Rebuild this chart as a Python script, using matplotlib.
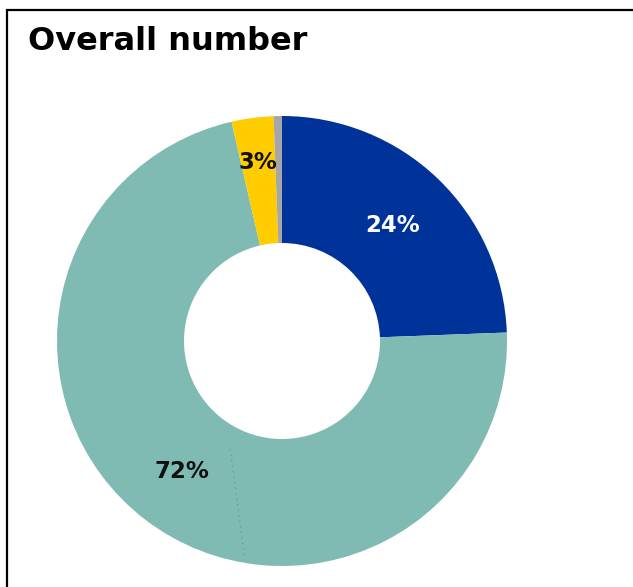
import matplotlib
matplotlib.use("Agg")
import matplotlib.pyplot as plt
from matplotlib.patches import Rectangle
from matplotlib.lines import Line2D
import numpy as np

title = "Overall number"
categories = ["Blue", "Teal", "Yellow", "Gray"]
values = [24.4, 72.0, 3.0, 0.6]
labels = ["24%", "72%", "3%", ""]
colors = ["#003399", "#7FBBB2", "#FFCC00", "#A6A6A6"]
label_colors = ["white", "#111111", "#111111", "#111111"]
label_dist = [0.71, 0.73, 0.80, 0.8]

W, H = 633, 587
fig = plt.figure(figsize=(W / 100, H / 100), dpi=100)
fig.patch.set_facecolor("white")

# frame (extends past the right/bottom edges)
fig.add_artist(Rectangle((7 / W, -0.1), 1.2, (H - 10) / H + 0.1,
                         transform=fig.transFigure, fill=False,
                         edgecolor="black", linewidth=1.6, clip_on=False))

fig.text(28 / W, 1 - 42 / H, title, fontsize=23, fontweight="bold",
         ha="left", va="center", color="black", family="DejaVu Sans")

cx, cy, R = 282, 341, 225
ax = fig.add_axes([(cx - R) / W, (H - cy - R) / H, 2 * R / W, 2 * R / H])
inner = 98 / R
wedges, _ = ax.pie(values, colors=colors, startangle=90, counterclock=False,
                   radius=1, wedgeprops=dict(width=1 - inner, linewidth=0))
for w, lab, d, c in zip(wedges, labels, label_dist, label_colors):
    if not lab:
        continue
    ang = np.deg2rad((w.theta1 + w.theta2) / 2)
    ax.text(d * np.cos(ang), d * np.sin(ang), lab, ha="center", va="center",
            fontsize=16.5, fontweight="bold", color=c, family="DejaVu Sans")

# faint dotted guide line in teal slice
ax.add_line(Line2D([-0.23, -0.165], [-0.48, -0.97], linestyle=(0, (1, 3)),
                   color="#6a9d96", linewidth=1))
ax.set_xlim(-1, 1)
ax.set_ylim(-1, 1)
ax.set_aspect("equal")
ax.axis("off")

fig.savefig("out.png", dpi=100, facecolor="white")
